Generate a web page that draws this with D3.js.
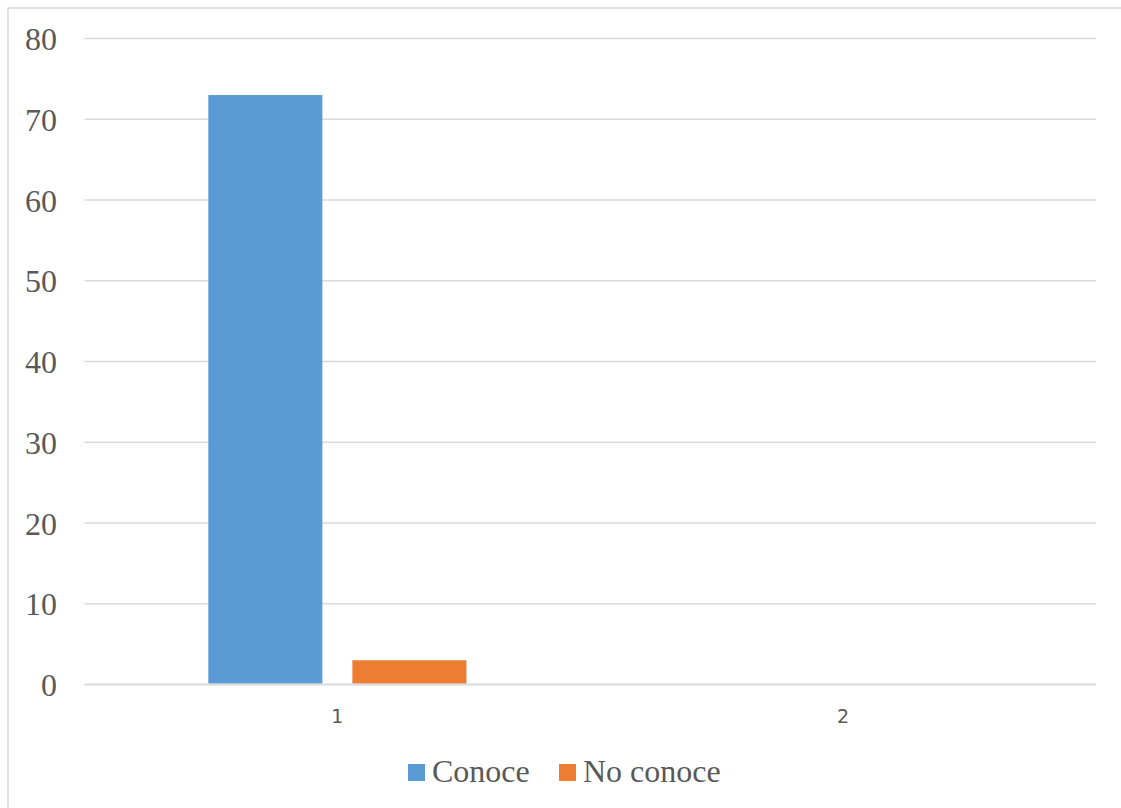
<!DOCTYPE html>
<html>
<head>
<meta charset="utf-8">
<script src="https://cdn.jsdelivr.net/npm/d3@7"></script>
<style>
  html, body { margin: 0; padding: 0; background: #fff; }
  svg { display: block; }
  .serif { font-family: "Liberation Serif", Tinos, "Times New Roman", "DejaVu Serif", serif; }
</style>
</head>
<body>
<svg id="chart" width="1121" height="808"></svg>
<script>
const categories = ["1", "2"];
const seriesNames = ["Conoce", "No conoce"];
const conoce = [73, null];
const noConoce = [3, null];
const yTicks = [0, 10, 20, 30, 40, 50, 60, 70, 80];
const colors = ["#5b9bd5", "#ed7d31"];

(function () {
const svg = d3.select("#chart");
const W = 1121, H = 808;
const pLeft = 84.5, pRight = 1096, pTop = 38.5, pBottom = 684.5;

// chart border
svg.append("rect")
  .attr("x", 8).attr("y", 8)
  .attr("width", W + 20).attr("height", H + 20)
  .attr("fill", "#fff").attr("stroke", "#d9d9d9").attr("stroke-width", 1.5);

const y = d3.scaleLinear().domain([0, 80]).range([pBottom, pTop]);
const x0 = d3.scaleBand().domain(categories).range([pLeft, pRight])
  .paddingInner(0.4896).paddingOuter(0.2448);
const x1 = d3.scaleBand().domain(seriesNames).range([0, x0.bandwidth()]).paddingInner(0.2083);

// gridlines
const gy = svg.append("g");
gy.selectAll("line.grid").data(yTicks.filter(d => d !== 0)).enter().append("line")
  .attr("class", "grid")
  .attr("x1", pLeft).attr("x2", pRight)
  .attr("y1", d => y(d)).attr("y2", d => y(d))
  .attr("stroke", "#d9d9d9").attr("stroke-width", 1.5);

// y tick labels
gy.selectAll("text.yl").data(yTicks).enter().append("text")
  .attr("class", "yl serif")
  .attr("x", 57).attr("y", d => y(d) + 11.5)
  .attr("text-anchor", "end")
  .attr("font-size", 32).attr("fill", "#595959")
  .text(d => d);

// bars
const data = categories.map((c, i) => ({ cat: c, values: [conoce[i], noConoce[i]] }));
const groups = svg.append("g").selectAll("g").data(data).enter().append("g")
  .attr("transform", d => `translate(${x0(d.cat)},0)`);
groups.selectAll("rect").data(d => d.values.map((v, j) => ({ name: seriesNames[j], v, j })).filter(e => e.v != null))
  .enter().append("rect")
  .attr("x", d => x1(d.name))
  .attr("width", x1.bandwidth())
  .attr("y", d => y(d.v))
  .attr("height", d => y(0) - 0.8 - y(d.v))
  .attr("fill", d => colors[d.j]);

// x axis line
svg.append("line")
  .attr("x1", pLeft).attr("x2", pRight)
  .attr("y1", y(0)).attr("y2", y(0))
  .attr("stroke", "#d9d9d9").attr("stroke-width", 2);

// x tick labels
svg.append("g").selectAll("text").data(categories).enter().append("text")
  .attr("x", d => x0(d) + x0.bandwidth() / 2)
  .attr("y", 723)
  .attr("text-anchor", "middle")
  .attr("font-family", "'DejaVu Sans', sans-serif")
  .attr("font-size", 19).attr("fill", "#595959")
  .text(d => d);

// legend
const legendX = [408, 559];
const lg = svg.append("g").selectAll("g").data(seriesNames).enter().append("g")
  .attr("transform", (d, i) => `translate(${legendX[i]},764)`);
lg.append("rect").attr("width", 17).attr("height", 17).attr("fill", (d, i) => colors[i]);
lg.append("text")
  .attr("class", "serif")
  .attr("x", 24).attr("y", 18)
  .attr("font-size", 32).attr("fill", "#595959")
  .text(d => d);
})();
</script>
</body>
</html>
